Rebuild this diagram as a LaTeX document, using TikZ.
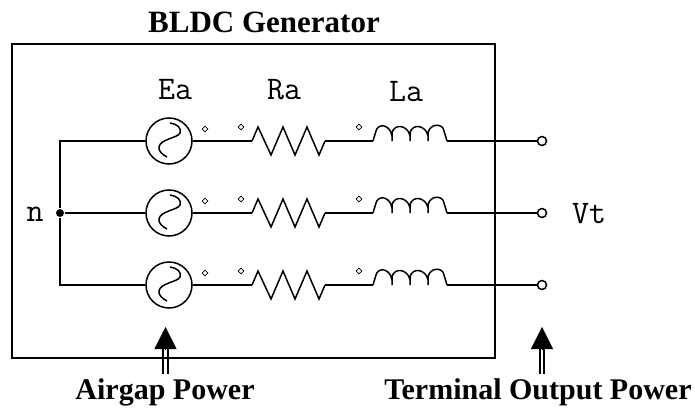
\documentclass[tikz,border=0pt]{standalone}
\usepackage{fontspec}
\setmainfont{Liberation Serif}
\usetikzlibrary{arrows.meta, shapes.geometric}
\tikzset{
    source/.style={shape=circle,draw=black,fill=white,inner sep=0pt,minimum size=46pt,
        path picture={\draw[shift={(path picture bounding box.center)}]
            (1,-18) .. controls (8,-17) and (13,-13) .. (11,-8)
            .. controls (9,-3) and (-9,-2) .. (-10,6)
            .. controls (-11,10) and (-6,14) .. (-2,16);}},
    terminal/.style={shape=circle,draw=black,fill=white,inner sep=0pt,minimum size=9pt},
    polarity/.style={shape=diamond,draw=black,line width=.8pt,inner sep=0pt,minimum size=6pt},
    zigzag/.style={to path={-- ++(6,-14) -- ++(13,28) -- ++(12,-28) -- ++(12,28) -- ++(12,-28) -- ++(12,28) -- (\tikztotarget)}},
    coil/.style={to path={-- ++(3,-10) .. controls +(2,-8) and +(-2,-12) .. ++(16,5) -- ++(0,5) -- ++(0,-8)
        .. controls +(2,-10) and +(-2,-11) .. ++(18,3) -- ++(0,5) -- ++(0,-8)
        .. controls +(2,-10) and +(-2,-11) .. ++(18,3) -- ++(0,5) -- ++(0,-8)
        .. controls +(2,-10) and +(-1,-8) .. ++(16,-2) -- (\tikztotarget)}},
    monolabel/.style={font=\ttfamily\fontsize{33}{33}\selectfont,inner sep=0pt},
    boldlabel/.style={font=\bfseries\fontsize{30}{30}\selectfont,inner sep=0pt},
    shaft/.style={double,double distance=2.6pt,line width=1.9pt},
    head/.style={-{Triangle[length=22pt,width=22pt]},line width=.5pt}
}
\begin{document}
\begin{tikzpicture}[x=1pt, y=-1pt, line width=1.5pt]
    \useasboundingbox (0,0) rectangle (695,409);

    \node[boldlabel,font=\bfseries\fontsize{31}{31}\selectfont] (title) at (264,22) {BLDC Generator};
    \node[monolabel] (ea) at (175,90) {Ea};
    \node[monolabel] (ra) at (284,90) {Ra};
    \node[monolabel] (la) at (406,92) {La};
    \node[monolabel] (nlabel) at (35,214) {n};
    \node[monolabel] (vt) at (589,214) {Vt};
    \node[boldlabel] (airgap) at (165,392) {Airgap Power};
    \node[boldlabel] (output) at (538,392) {Terminal Output Power};

    % power arrows
    \coordinate (airgapfoot) at (165.5,374);
    \coordinate (airgapneck) at (165.5,349);
    \coordinate (airgaptip) at (165.5,327);
    \coordinate (outputfoot) at (542,374);
    \coordinate (outputneck) at (542,349);
    \coordinate (outputtip) at (542,327);
    \draw[shaft] (airgapfoot) -- (airgapneck);
    \draw[head] (airgapneck) -- (airgaptip);
    \draw[shaft] (outputfoot) -- (outputneck);
    \draw[head] (outputneck) -- (outputtip);

    % generator box
    \coordinate (boxa) at (12,44);
    \coordinate (boxb) at (495,358);
    \draw[line width=1.7pt] (boxa) rectangle (boxb);

    \node[source] (s1) at (169,141) {};
    \node[source] (s2) at (169,213) {};
    \node[source] (s3) at (169,285) {};

    \coordinate (r1a) at (252,141);
    \coordinate (r1b) at (325,141);
    \coordinate (r2a) at (252,213);
    \coordinate (r2b) at (325,213);
    \coordinate (r3a) at (252,285);
    \coordinate (r3b) at (325,285);
    \coordinate (l1a) at (373,141);
    \coordinate (l1b) at (447,141);
    \coordinate (l2a) at (373,213);
    \coordinate (l2b) at (447,213);
    \coordinate (l3a) at (373,285);
    \coordinate (l3b) at (447,285);

    \node[terminal] (t1) at (542,141) {};
    \node[terminal] (t2) at (542,213) {};
    \node[terminal] (t3) at (542,285) {};

    \node[shape=circle,fill=black,inner sep=0pt,minimum size=8pt] (n) at (60,213) {};
    \coordinate (n1) at (60,141);
    \coordinate (n3) at (60,285);

    \draw (s1) -- (n1) -- (n) -- (n3) -- (s3);
    \draw (n) -- (s2);

    \draw (s1) -- (r1a);
    \draw (s2) -- (r2a);
    \draw (s3) -- (r3a);
    \draw (r1a) to[zigzag] (r1b);
    \draw (r2a) to[zigzag] (r2b);
    \draw (r3a) to[zigzag] (r3b);
    \draw (r1b) -- (l1a);
    \draw (r2b) -- (l2a);
    \draw (r3b) -- (l3a);
    \draw (l1a) to[coil] (l1b);
    \draw (l2a) to[coil] (l2b);
    \draw (l3a) to[coil] (l3b);
    \draw (l1b) -- (t1);
    \draw (l2b) -- (t2);
    \draw (l3b) -- (t3);

    % polarity marks
    \node[polarity] (p1a) at (205,129) {};
    \node[polarity] (p1b) at (241,127) {};
    \node[polarity] (p1c) at (359,127) {};
    \node[polarity] (p2a) at (205,201) {};
    \node[polarity] (p2b) at (241,199) {};
    \node[polarity] (p2c) at (359,199) {};
    \node[polarity] (p3a) at (205,273) {};
    \node[polarity] (p3b) at (241,271) {};
    \node[polarity] (p3c) at (359,271) {};
\end{tikzpicture}
\end{document}
